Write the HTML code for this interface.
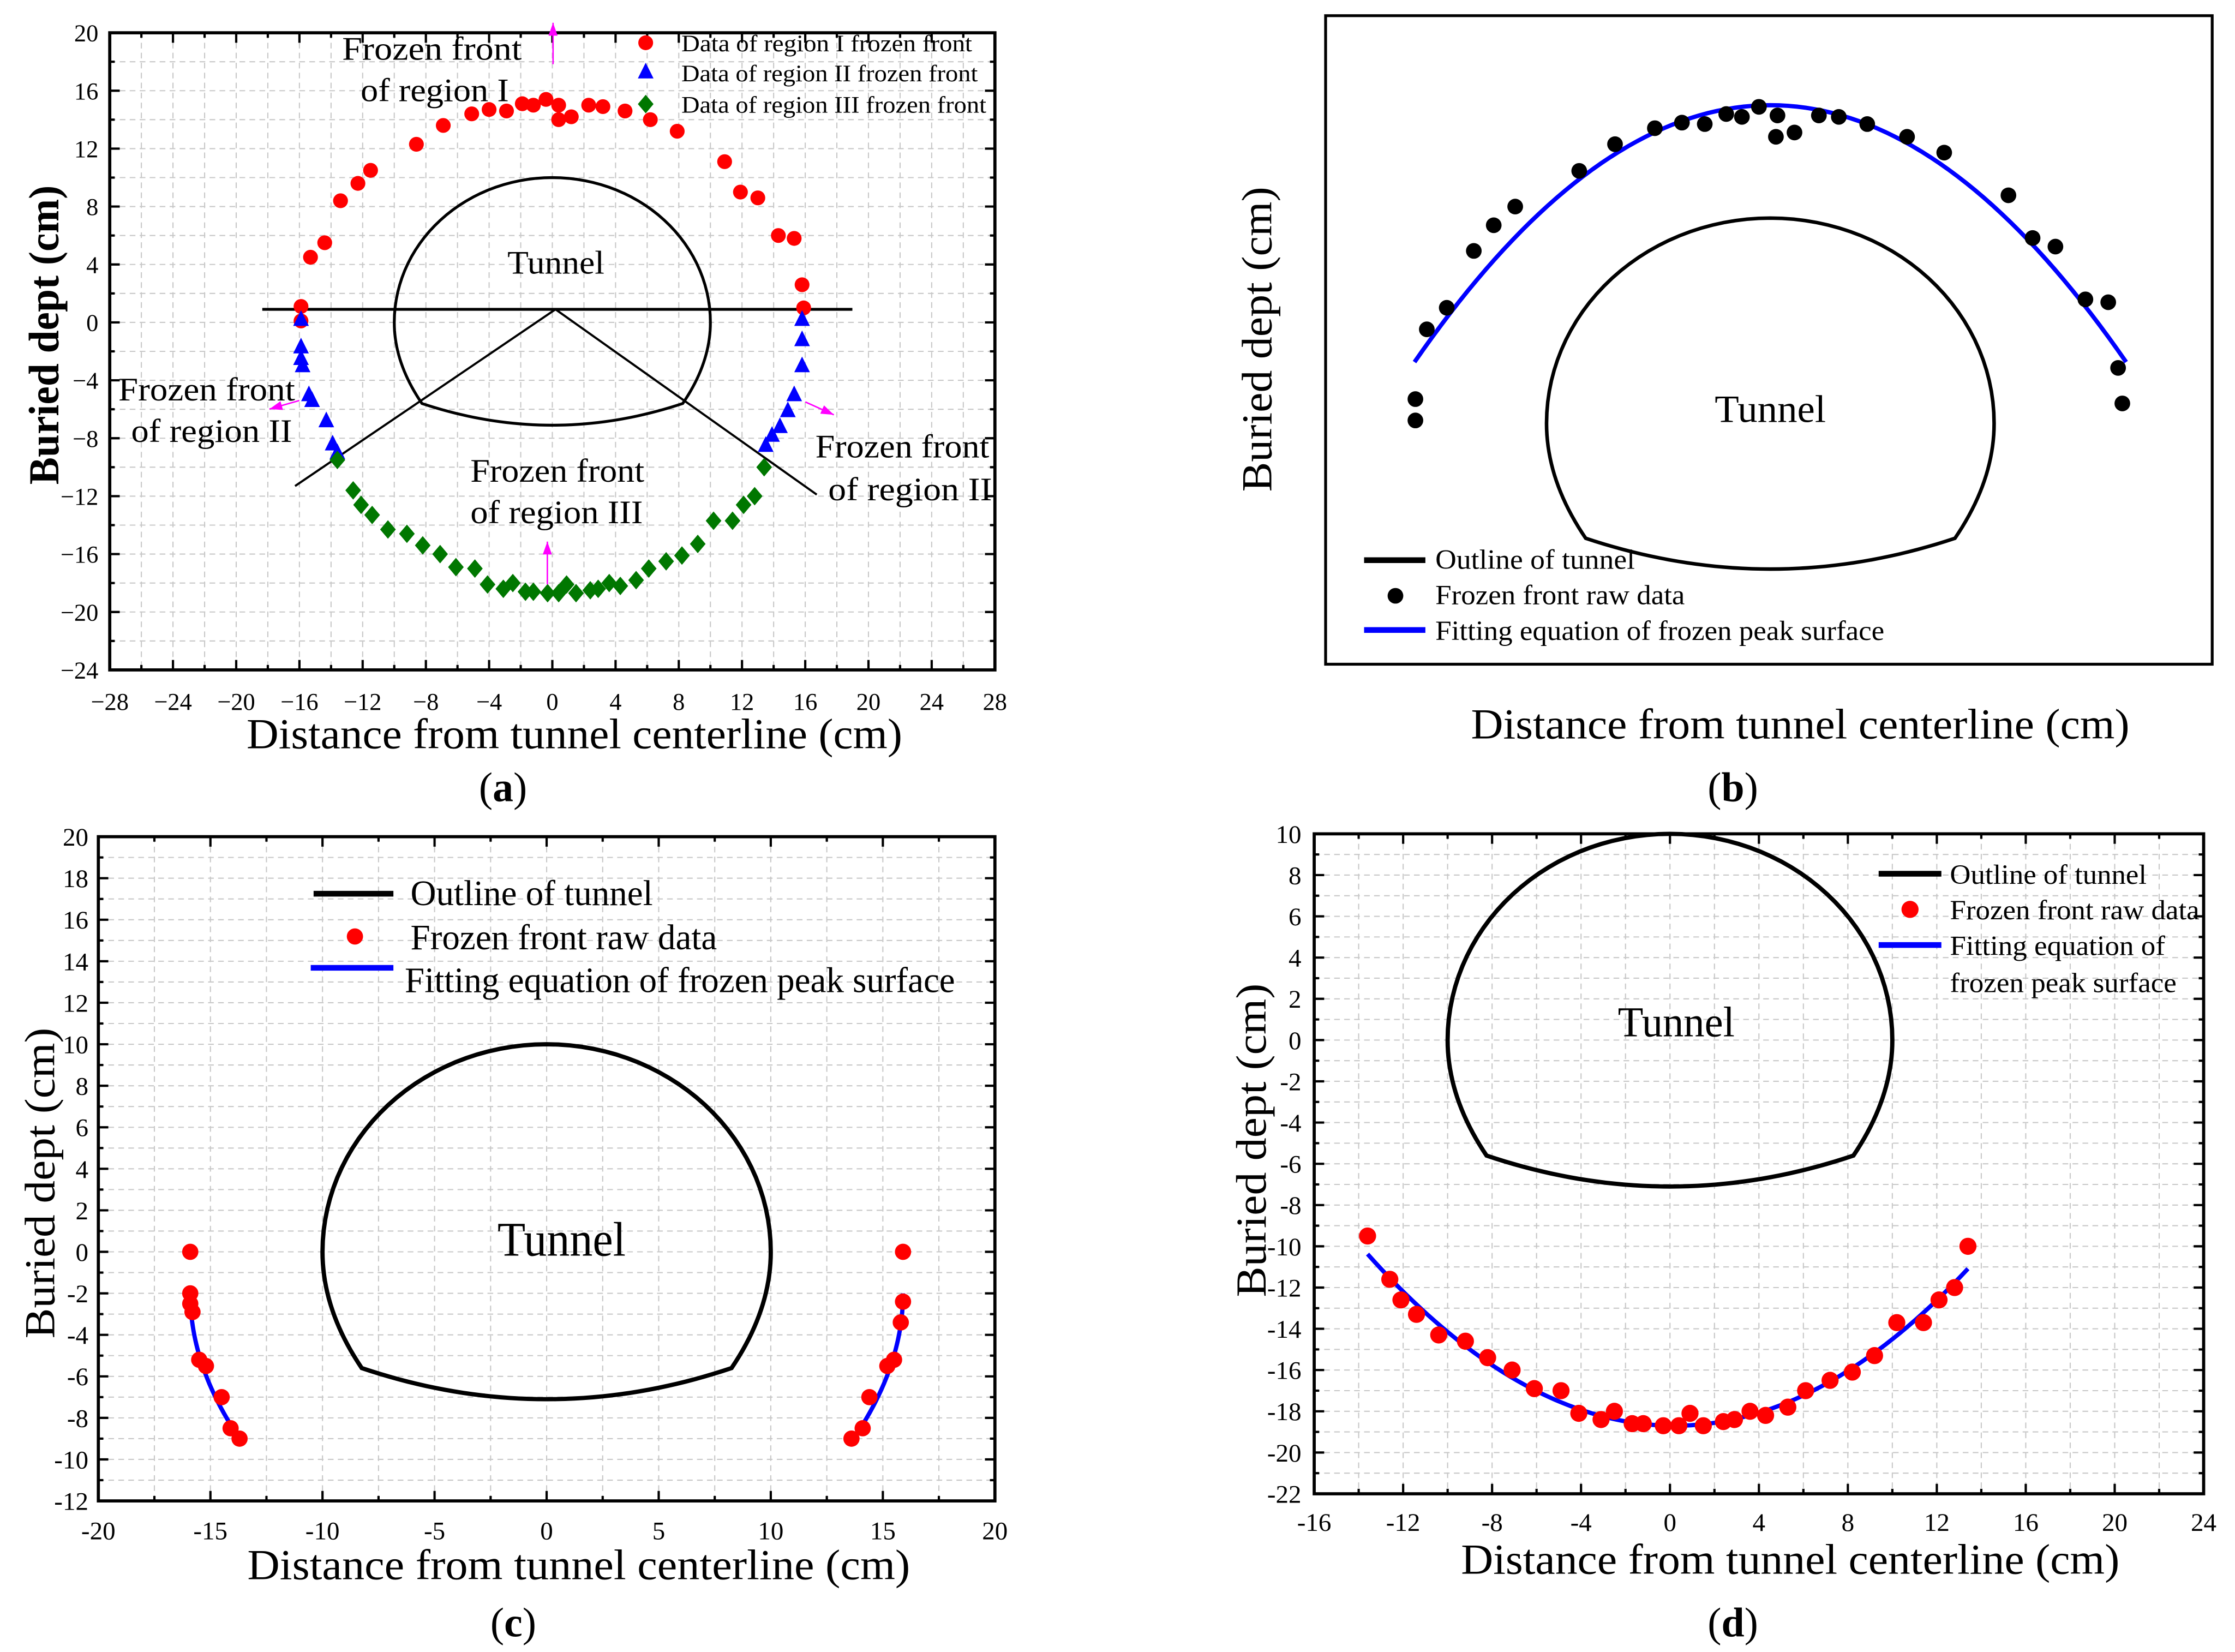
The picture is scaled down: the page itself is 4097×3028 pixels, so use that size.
<!DOCTYPE html>
<html><head><meta charset="utf-8">
<style>
html,body{margin:0;padding:0;background:#fff;}
svg{display:block;}
text{font-family:"Liberation Serif",serif;fill:#000;}
</style></head>
<body>
<svg id="fig" xmlns="http://www.w3.org/2000/svg" width="4097" height="3028" viewBox="0 0 1568 1159" preserveAspectRatio="none">
<rect x="0" y="0" width="1568" height="1159" fill="#fff"/>
</svg>
<script>
// ---------- data ----------
const aRegion1X=[-15.9,-15.3,-14.4,-13.4,-12.3,-11.5,-8.6,-6.9,-5.1,-4,-2.9,-1.9,-1.2,-0.4,0.4,0.4,1.2,2.3,3.2,4.6,6.2,7.9,10.9,11.9,13,14.3,15.3,15.8,15.9,-15.9];
const aRegion1Y=[1.1,4.5,5.5,8.4,9.6,10.5,12.3,13.6,14.4,14.7,14.6,15.1,15,15.4,15,14,14.2,15,14.9,14.6,14,13.2,11.1,9,8.6,6,5.8,2.6,1,0.1];
const aRegion2X=[-15.9,-15.9,-15.9,-15.8,-15.4,-15.2,-14.3,-13.9,-13.6,15.8,15.8,15.8,15.3,14.9,14.4,13.9,13.5];
const aRegion2Y=[0.2,-1.7,-2.5,-3,-5,-5.4,-6.8,-8.4,-9,0.2,-1.2,-3,-5,-6.1,-7.2,-7.8,-8.5];
const region3X=[-13.6,-12.6,-12.1,-11.4,-10.4,-9.2,-8.2,-7.1,-6.1,-4.9,-4.1,-3.1,-2.5,-1.7,-1.2,-0.3,0.4,0.9,1.5,2.4,2.9,3.6,4.3,5.3,6.1,7.2,8.2,9.2,10.2,11.4,12.1,12.8,13.4];
const region3Y=[-9.5,-11.6,-12.6,-13.3,-14.3,-14.6,-15.4,-16,-16.9,-17,-18.1,-18.4,-18,-18.6,-18.6,-18.7,-18.7,-18.1,-18.7,-18.5,-18.4,-18,-18.2,-17.8,-17,-16.5,-16.1,-15.3,-13.7,-13.7,-12.6,-12,-10];
const bX=[-15.86,-15.86,-15.35,-14.46,-13.25,-12.36,-11.4,-8.54,-6.94,-5.16,-3.95,-2.93,-1.97,-1.27,-0.51,0.32,0.25,1.08,2.17,3.06,4.33,6.11,7.77,10.64,11.72,12.74,14.08,15.1,15.54,15.73];
const bY=[0.14,1.18,4.58,5.63,8.4,9.65,10.56,12.3,13.6,14.38,14.65,14.58,15.07,14.93,15.42,15,13.96,14.17,15,14.93,14.58,13.96,13.19,11.11,9.03,8.61,6.04,5.9,2.7,0.97];
const bFit=[15.5,0.0495,-15.9,15.9];
const cX=[-15.9,-15.9,-15.9,-15.8,-15.5,-15.2,-14.5,-14.1,-13.7,13.6,14.1,14.4,15.2,15.5,15.8,15.9,15.9];
const cY=[0,-2,-2.5,-2.9,-5.2,-5.5,-7,-8.5,-9,-9,-8.5,-7,-5.5,-5.2,-3.4,-2.4,0];
const cFit=[15.9,0.045,-2,-9];
const dFit=[0.2,-18.7,0.0437,-13.6,13.4];
const aXTicks=[-28,-24,-20,-16,-12,-8,-4,0,4,8,12,16,20,24,28];
const aYTicks=[-24,-20,-16,-12,-8,-4,0,4,8,12,16,20];
const cXTicks=[-20,-15,-10,-5,0,5,10,15,20];
const cYTicks=[-12,-10,-8,-6,-4,-2,0,2,4,6,8,10,12,14,16,18,20];
const dXTicks=[-16,-12,-8,-4,0,4,8,12,16,20,24];
const dYTicks=[-22,-20,-18,-16,-14,-12,-10,-8,-6,-4,-2,0,2,4,6,8,10];

// ---------- helpers ----------
const NS="http://www.w3.org/2000/svg";
const svg=document.getElementById('fig');
function mk(tag,attrs,parent){const e=document.createElementNS(NS,tag);for(const k in attrs)e.setAttribute(k,attrs[k]);(parent||svg).appendChild(e);return e;}
function txt(s,x,y,size,anchor,parent,extra){const a=Object.assign({x:x,y:y,'font-size':size,'text-anchor':anchor||'start'},extra||{});if(a.textLength)a.lengthAdjust='spacingAndGlyphs';const t=mk('text',a,parent);t.textContent=s;return t;}
function scale(d0,d1,p0,p1){return v=>p0+(v-d0)*(p1-p0)/(d1-d0);}

function tunnelPts(sx,sy){
  const pts=[];
  for(let i=0;i<=60;i++){const th=Math.PI*i/60;pts.push([10*Math.cos(th),10*Math.sin(th)]);}
  for(let i=1;i<=20;i++){const y=-5.6*i/20;pts.push([-(10-1.75*(y/5.6)*(y/5.6)),y]);}
  for(let i=1;i<=40;i++){const t=i/40;const x=-8.25+16.5*t;const y=-5.6-1.5*(1-Math.pow(2*t-1,2));pts.push([x,y]);}
  for(let i=19;i>=0;i--){const y=-5.6*i/20;pts.push([10-1.75*(y/5.6)*(y/5.6),y]);}
  return pts.map(p=>sx(p[0]).toFixed(2)+','+sy(p[1]).toFixed(2)).join(' ');
}

function axes(g,x0,x1,y0,y1,sx,sy,xT,yT,xMinor,yMinor,fmt,tickSize,xLabY,yLabX){
  for(let v=xT[0];v<=xT[xT.length-1]+1e-9;v+=xMinor){const p=sx(v);if(Math.abs(p-x0)<1||Math.abs(p-x1)<1)continue;
    const l=mk('line',{x1:p,x2:p,y1:y0,y2:y1,stroke:'#c8c8c8','stroke-width':0.8,'stroke-dasharray':'4,3'},g);
    }
  for(let v=yT[0];v<=yT[yT.length-1]+1e-9;v+=yMinor){const p=sy(v);if(Math.abs(p-y0)<1||Math.abs(p-y1)<1)continue;
    const l=mk('line',{x1:x0,x2:x1,y1:p,y2:p,stroke:'#c8c8c8','stroke-width':0.8,'stroke-dasharray':'4,3'},g);
    }
  for(let v=xT[0];v<=xT[xT.length-1]+1e-9;v+=xMinor){const p=sx(v);const maj=xT.some(t=>Math.abs(t-v)<1e-6);const L=maj?7:3.5;
    mk('line',{x1:p,x2:p,y1:y1,y2:y1-L,stroke:'#000','stroke-width':1.6},g);
    mk('line',{x1:p,x2:p,y1:y0,y2:y0+L,stroke:'#000','stroke-width':1.6},g);}
  for(let v=yT[0];v<=yT[yT.length-1]+1e-9;v+=yMinor){const p=sy(v);const maj=yT.some(t=>Math.abs(t-v)<1e-6);const L=maj?7:3.5;
    mk('line',{x1:x0,x2:x0+L,y1:p,y2:p,stroke:'#000','stroke-width':1.6},g);
    mk('line',{x1:x1,x2:x1-L,y1:p,y2:p,stroke:'#000','stroke-width':1.6},g);}
  const fr=mk('rect',{x:x0,y:y0,width:x1-x0,height:y1-y0,fill:'none',stroke:'#000','stroke-width':2.2},g);
  
  xT.forEach(v=>{const t=txt(fmt(v),sx(v),xLabY,tickSize,'middle',g);});
  yT.forEach(v=>{const t=txt(fmt(v),yLabX,sy(v)+tickSize*0.35,tickSize,'end',g);});
}
function circ(g,cx,cy,r,fill,name){const c=mk('circle',{cx:cx,cy:cy,r:r,fill:fill},g);return c;}
function arrow(g,x1,y1,x2,y2){
  mk('line',{x1:x1,y1:y1,x2:x2,y2:y2,stroke:'#f0f','stroke-width':1},g);
  const a=Math.atan2(y2-y1,x2-x1),L=9,W=3.2;
  const p=[[x2,y2],[x2-L*Math.cos(a)+W*Math.sin(a),y2-L*Math.sin(a)-W*Math.cos(a)],[x2-L*Math.cos(a)-W*Math.sin(a),y2-L*Math.sin(a)+W*Math.cos(a)]];
  const h=mk('polygon',{points:p.map(q=>q.join(',')).join(' '),fill:'#f0f'},g);
  
}
const minusFmt=v=>v<0?'\u2212'+Math.abs(v):String(v);
const hyFmt=v=>String(v);

// ---------- panel a ----------
(function(){
  const g=mk('g',{});
  const X0=77,X1=698,Y0=23,Y1=470;
  const sx=scale(-28,28,X0,X1),sy=scale(20,-24,Y0,Y1);
  axes(g,X0,X1,Y0,Y1,sx,sy,aXTicks,aYTicks,2,2,minusFmt,17,498,69);
  const tl=mk('polygon',{points:tunnelPts(sx,sy),fill:'none',stroke:'#000','stroke-width':2},g);
  
  mk('line',{x1:184,y1:sy(0.9),x2:598,y2:sy(0.9),stroke:'#000','stroke-width':2},g);
  mk('line',{x1:sx(0.2),y1:sy(0.9),x2:207,y2:341,stroke:'#000','stroke-width':1.5},g);
  mk('line',{x1:sx(0.2),y1:sy(0.9),x2:573,y2:347,stroke:'#000','stroke-width':1.5},g);
  aRegion1X.forEach((x,i)=>circ(g,sx(x),sy(aRegion1Y[i]),5.2,'#ff0000','region1-point'));
  aRegion2X.forEach((x,i)=>{const cx=sx(x),cy=sy(aRegion2Y[i]);const p=mk('polygon',{points:`${cx},${cy-6.5} ${cx-5.5},${cy+4.5} ${cx+5.5},${cy+4.5}`,fill:'#0000ff'},g);
    });
  region3X.forEach((x,i)=>{const cx=sx(x),cy=sy(region3Y[i]);const p=mk('polygon',{points:`${cx},${cy-6.5} ${cx+5.5},${cy} ${cx},${cy+6.5} ${cx-5.5},${cy}`,fill:'#007700'},g);
    });
  arrow(g,388,45,388,16);arrow(g,384,410,384,380);arrow(g,210,281,189,287);arrow(g,565,282,585,291);
  [['Frozen front',240,42,126],['of region I',253,71,104],['Frozen front',83,281,124],['of region II',92,310,113],['Frozen front',572,321,122],['of region II',581,351,115],['Frozen front',330,338,122],['of region III',330,367,121]].forEach(a=>{
    const t=txt(a[0],a[1],a[2],23,'start',g,{textLength:a[3]});});
  const tn=txt('Tunnel',390,192,23,'middle',g,{textLength:68});
  const lg=mk('g',{},g);
  circ(lg,453,30,5.2,'#ff0000','legend-marker-region1');
  mk('polygon',{points:'453,44 447.5,55 458.5,55',fill:'#0000ff'},lg);
  mk('polygon',{points:'453,66.5 458.5,73 453,79.5 447.5,73',fill:'#007700'},lg);
  txt('Data of region I frozen front',478,36,16.5,'start',lg,{textLength:204});
  txt('Data of region II frozen front',478,57,16.5,'start',lg,{textLength:208});
  txt('Data of region III frozen front',478,79,16.5,'start',lg,{textLength:214});
  const xt=txt('Distance from tunnel centerline (cm)',403,525,30,'middle',g,{textLength:460});
  const yt=txt('Buried dept (cm)',0,0,30,'middle',g,{'font-weight':'bold',transform:'translate(41,235) rotate(-90)',textLength:210});
  const pl=txt('(',336,562,29,'start',g);pl.innerHTML='(<tspan font-weight="bold">a</tspan>)';
})();

// ---------- panel b ----------
(function(){
  const g=mk('g',{});
  const sx=v=>1242+v*15.7,sy=v=>297-v*14.4;
  const fr=mk('rect',{x:930,y:11,width:622,height:455,fill:'none',stroke:'#000','stroke-width':2},g);
  const tl=mk('polygon',{points:tunnelPts(sx,sy),fill:'none',stroke:'#000','stroke-width':2.5},g);
  let d='';for(let i=0;i<=80;i++){const x=bFit[2]+(bFit[3]-bFit[2])*i/80;d+=(i?'L':'M')+sx(x).toFixed(2)+','+sy(bFit[0]-bFit[1]*x*x).toFixed(2);}
  const fl=mk('path',{d:d,fill:'none',stroke:'#0000ff','stroke-width':3},g);
  bX.forEach((x,i)=>circ(g,sx(x),sy(bY[i]),5.5,'#000','raw-data-point'));
  const tn=txt('Tunnel',1242,296,27,'middle',g,{textLength:78});
  const lg=mk('g',{},g);
  mk('line',{x1:957,x2:1000,y1:393,y2:393,stroke:'#000','stroke-width':4},lg);
  circ(lg,979,418,5.5,'#000','legend-marker');
  mk('line',{x1:957,x2:1000,y1:442,y2:442,stroke:'#0000ff','stroke-width':4},lg);
  txt('Outline of tunnel',1007,399,19.5,'start',lg,{textLength:140});
  txt('Frozen front raw data',1007,424,19.5,'start',lg,{textLength:175});
  txt('Fitting equation of frozen peak surface',1007,449,19.5,'start',lg,{textLength:315});
  const xt=txt('Distance from tunnel centerline (cm)',1263,518,30,'middle',g,{textLength:462});
  const yt=txt('Buried dept (cm)',0,0,30,'middle',g,{transform:'translate(892,238) rotate(-90)',textLength:214});
  const pl=txt('',1198,562,29,'start',g);pl.innerHTML='(<tspan font-weight="bold">b</tspan>)';
})();

// ---------- panel c ----------
(function(){
  const g=mk('g',{});
  const X0=69,X1=698,Y0=587,Y1=1053;
  const sx=scale(-20,20,X0,X1),sy=scale(20,-12,Y0,Y1);
  axes(g,X0,X1,Y0,Y1,sx,sy,cXTicks,cYTicks,2.5,1,hyFmt,18,1080,62);
  const tl=mk('polygon',{points:tunnelPts(sx,sy),fill:'none',stroke:'#000','stroke-width':3},g);
  [-1,1].forEach(s=>{let d='';for(let i=0;i<=40;i++){const y=cFit[2]+(cFit[3]-cFit[2])*i/40;const x=s*(cFit[0]-cFit[1]*(y-cFit[2])*(y-cFit[2]));d+=(i?'L':'M')+sx(x).toFixed(2)+','+sy(y).toFixed(2);}
    const fl=mk('path',{d:d,fill:'none',stroke:'#0000ff','stroke-width':3},g);});
  cX.forEach((x,i)=>circ(g,sx(x),sy(cY[i]),5.7,'#ff0000','raw-data-point'));
  const tn=txt('Tunnel',394,881,34,'middle',g,{textLength:90});
  const lg=mk('g',{},g);
  mk('line',{x1:220,x2:276,y1:627,y2:627,stroke:'#000','stroke-width':4},lg);
  circ(lg,249,657,5.7,'#ff0000','legend-marker');
  mk('line',{x1:218,x2:276,y1:679,y2:679,stroke:'#0000ff','stroke-width':4},lg);
  txt('Outline of tunnel',288,635,25,'start',lg,{textLength:170});
  txt('Frozen front raw data',288,666,25,'start',lg,{textLength:215});
  txt('Fitting equation of frozen peak surface',284,696,25,'start',lg,{textLength:386});
  const xt=txt('Distance from tunnel centerline (cm)',406,1108,30,'middle',g,{textLength:465});
  const yt=txt('Buried dept (cm)',0,0,30,'middle',g,{transform:'translate(38,830) rotate(-90)',textLength:218});
  const pl=txt('',344,1148,29,'start',g);pl.innerHTML='(<tspan font-weight="bold">c</tspan>)';
})();

// ---------- panel d ----------
(function(){
  const g=mk('g',{});
  const X0=922,X1=1546,Y0=585,Y1=1048;
  const sx=scale(-16,24,X0,X1),sy=scale(10,-22,Y0,Y1);
  axes(g,X0,X1,Y0,Y1,sx,sy,dXTicks,dYTicks,2,1,hyFmt,18,1074,913);
  const tl=mk('polygon',{points:tunnelPts(sx,sy),fill:'none',stroke:'#000','stroke-width':3},g);
  let d='';for(let i=0;i<=80;i++){const x=dFit[3]+(dFit[4]-dFit[3])*i/80;d+=(i?'L':'M')+sx(x).toFixed(2)+','+sy(dFit[1]+dFit[2]*(x-dFit[0])*(x-dFit[0])).toFixed(2);}
  const fl=mk('path',{d:d,fill:'none',stroke:'#0000ff','stroke-width':3},g);
  region3X.forEach((x,i)=>circ(g,sx(x),sy(region3Y[i]),6,'#ff0000','raw-data-point'));
  const tn=txt('Tunnel',1176,727,30,'middle',g,{textLength:82});
  const lg=mk('g',{},g);
  mk('line',{x1:1318,x2:1362,y1:613,y2:613,stroke:'#000','stroke-width':4},lg);
  circ(lg,1340,638,6,'#ff0000','legend-marker');
  mk('line',{x1:1318,x2:1362,y1:663,y2:663,stroke:'#0000ff','stroke-width':4},lg);
  txt('Outline of tunnel',1368,620,19.5,'start',lg,{textLength:138});
  txt('Frozen front raw data',1368,645,19.5,'start',lg,{textLength:175});
  txt('Fitting equation of',1368,670,19.5,'start',lg,{textLength:151});
  txt('frozen peak surface',1368,696,19.5,'start',lg,{textLength:159});
  const xt=txt('Distance from tunnel centerline (cm)',1256,1104,30,'middle',g,{textLength:462});
  const yt=txt('Buried dept (cm)',0,0,30,'middle',g,{transform:'translate(888,800) rotate(-90)',textLength:220});
  const pl=txt('',1198,1148,29,'start',g);pl.innerHTML='(<tspan font-weight="bold">d</tspan>)';
})();
</script>
</body></html>
